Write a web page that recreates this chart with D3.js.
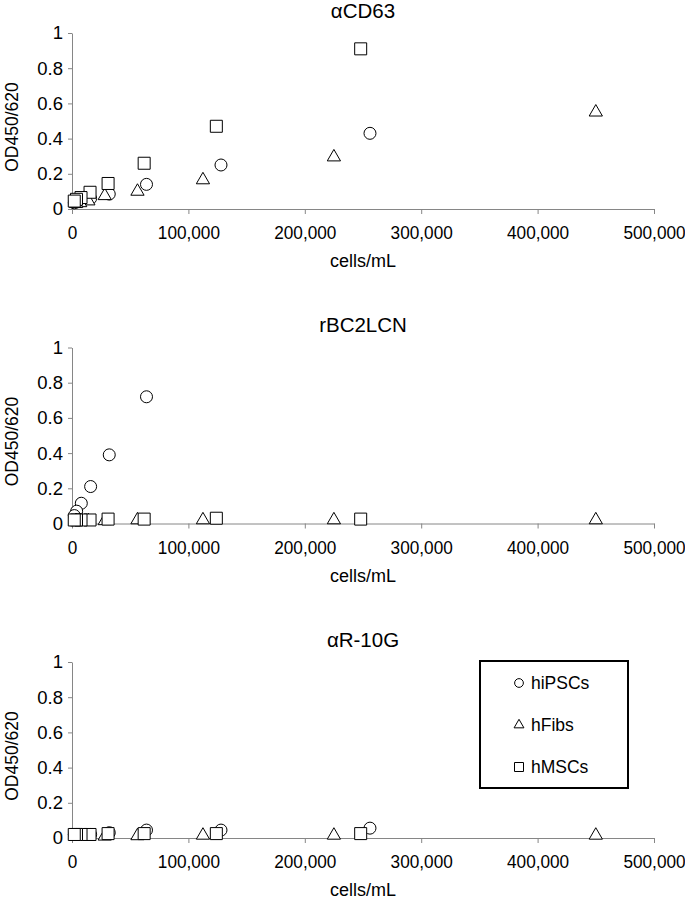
<!DOCTYPE html>
<html>
<head>
<meta charset="utf-8">
<script src="https://cdn.jsdelivr.net/npm/d3@7"></script>
<style>
  body { margin: 0; background: #fff; }
  text { font-family: "Liberation Sans", Arial, sans-serif; fill: #000; }
</style>
</head>
<body>
<script>
// cell densities (cells/mL) for each cell type
var xHiPSC = [256000, 128000, 64000, 32000, 16000, 8000, 4000, 2000];
var xHiPSC2 = [64000, 32000, 16000, 8000, 4000, 2000];
var xFib = [450000, 225000, 112500, 56250, 28125, 14063, 7031, 3516];
var xMSC = [248000, 124000, 62000, 31000, 15500, 7750, 3875, 1938];

// OD450/620 readings
var cd63HiPSC = [0.43, 0.25, 0.14, 0.085, 0.06, 0.05, 0.04, 0.035];
var cd63Fib = [0.55, 0.295, 0.165, 0.10, 0.075, 0.045, 0.035, 0.03];
var cd63MSC = [0.91, 0.47, 0.26, 0.145, 0.095, 0.065, 0.055, 0.045];

var lcnHiPSC = [0.72, 0.39, 0.21, 0.115, 0.07, 0.045];
var lcnFib = [0.02, 0.02, 0.02, 0.02, 0.015, 0.015, 0.015, 0.015];
var lcnMSC = [0.025, 0.03, 0.025, 0.025, 0.02, 0.02, 0.02, 0.02];

var r10gHiPSC = [0.056, 0.045, 0.045, 0.03, 0.02, 0.02, 0.02, 0.02];
var r10gFib = [0.015, 0.015, 0.015, 0.012, 0.01, 0.01, 0.01, 0.01];
var r10gMSC = [0.025, 0.025, 0.025, 0.025, 0.02, 0.02, 0.02, 0.02];

var panelTitles = ['\u03b1CD63', 'rBC2LCN', '\u03b1R-10G'];
var seriesNames = ['hiPSCs', 'hFibs', 'hMSCs'];
var xTicks = [0, 100000, 200000, 300000, 400000, 500000];
var yTicks = [0, 0.2, 0.4, 0.6, 0.8, 1];

function zip(xs, ys) {
	return xs.map(function(x, i) { return { x: x, y: ys[i] }; });
}

var panels = [
	[zip(xHiPSC, cd63HiPSC), zip(xFib, cd63Fib), zip(xMSC, cd63MSC)],
	[zip(xHiPSC2, lcnHiPSC), zip(xFib, lcnFib), zip(xMSC, lcnMSC)],
	[zip(xHiPSC, r10gHiPSC), zip(xFib, r10gFib), zip(xMSC, r10gMSC)]
];

var svg = d3.select('body').append('svg')
	.attr('width', 685)
	.attr('height', 900);

var margin = { top: 33, left: 72 };
var width = 582;
var height = 176;
var pitch = 314.5;

var xScale = d3.scaleLinear().domain([0, 500000]).range([0, width]);
var yScale = d3.scaleLinear().domain([0, 1]).range([height, 0]);

var shapes = [d3.symbolCircle, d3.symbolTriangle, d3.symbolSquare];
var sizes = [113, 76, 144];
var legendSizes = [60, 42, 81];
var axisColor = '#868686';
var tickFont = '18.5px';

panels.forEach(function(series, p) {
	var g = svg.append('g')
		.attr('transform', `translate(${margin.left}, ${margin.top + p * pitch})`);

	g.append('text')
		.attr('x', width / 2)
		.attr('y', -15.5)
		.attr('text-anchor', 'middle')
		.style('font-size', '20.5px')
		.text(panelTitles[p]);

	var xAxis = g.append('g')
		.attr('transform', `translate(0, ${height})`)
		.call(d3.axisBottom(xScale)
			.tickValues(xTicks)
			.tickSize(5)
			.tickSizeOuter(0)
			.tickPadding(12)
			.tickFormat(d3.format(',')));

	var yAxis = g.append('g')
		.call(d3.axisLeft(yScale)
			.tickValues(yTicks)
			.tickSize(4)
			.tickSizeOuter(0)
			.tickPadding(5)
			.tickFormat(d3.format('~g')));

	[xAxis, yAxis].forEach(function(a) {
		a.selectAll('path, line').attr('stroke', axisColor);
		a.selectAll('text')
			.style('font-size', tickFont)
			.style('font-family', '"Liberation Sans", Arial, sans-serif')
			.attr('fill', '#000');
	});
	// labels in the source are a bit narrow, squeeze them so 500,000 fits
	xAxis.selectAll('text').attr('transform', 'scale(0.93, 1)');

	g.append('text')
		.attr('x', width / 2)
		.attr('y', height + 58)
		.attr('text-anchor', 'middle')
		.style('font-size', '18px')
		.text('cells/mL');

	g.append('text')
		.attr('transform', `translate(${12 - margin.left}, ${height / 2 + 6}) rotate(-90)`)
		.attr('dy', '0.35em')
		.attr('text-anchor', 'middle')
		.style('font-size', '17.5px')
		.text('OD450/620');

	series.forEach(function(data, s) {
		g.selectAll('.pt' + s)
			.data(data)
			.enter().append('path')
			.attr('class', 'pt' + s)
			.attr('transform', function(d) { return `translate(${xScale(d.x)}, ${yScale(d.y)})`; })
			.attr('d', d3.symbol().type(shapes[s]).size(sizes[s]))
			.attr('fill', '#fff')
			.attr('stroke', '#000')
			.attr('stroke-width', 1);
	});
});

// legend, inside the last panel
var legend = svg.append('g').attr('transform', 'translate(480, 661)');
legend.append('rect')
	.attr('width', 148)
	.attr('height', 127)
	.attr('fill', '#fff')
	.attr('stroke', '#000')
	.attr('stroke-width', 2);

seriesNames.forEach(function(name, s) {
	var row = legend.append('g').attr('transform', `translate(39, ${22 + s * 42})`);
	row.append('path')
		.attr('d', d3.symbol().type(shapes[s]).size(legendSizes[s]))
		.attr('fill', '#fff')
		.attr('stroke', '#000');
	row.append('text')
		.attr('x', 12)
		.attr('dy', '0.35em')
		.style('font-size', '17.5px')
		.text(name);
});
</script>
</body>
</html>
